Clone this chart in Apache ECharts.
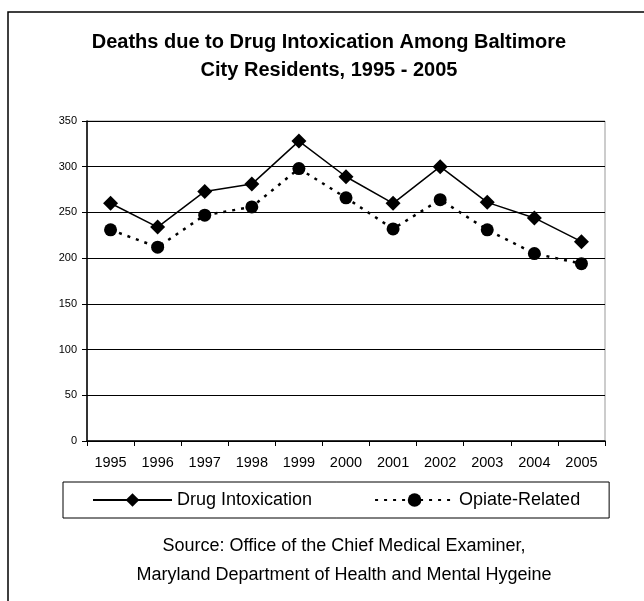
<!DOCTYPE html>
<html>
<head>
<meta charset="utf-8">
<script src="https://cdn.jsdelivr.net/npm/echarts@6/dist/echarts.min.js"></script>
<style>
html,body{margin:0;padding:0;background:#fff;}
#chart{width:644px;height:601px;}
</style>
</head>
<body>
<div id="chart"></div>
<script>
var years = ['1995','1996','1997','1998','1999','2000','2001','2002','2003','2004','2005'];
var drugIntoxication = [260, 234, 273, 281, 328, 289, 260, 300, 261, 244, 218];
var opiateRelated = [231, 212, 247, 256, 298, 266, 232, 264, 231, 205, 194];
var yTicks = { min: 0, max: 350, interval: 50 };
var titleText = 'Deaths due to Drug Intoxication Among Baltimore\nCity Residents, 1995 - 2005';
var sourceText = 'Source: Office of the Chief Medical Examiner,\nMaryland Department of Health and Mental Hygeine';

var FONT = "'Liberation Sans', Arial, sans-serif";
var chart = echarts.init(document.getElementById('chart'), null, {renderer: 'canvas'});
chart.setOption({
  backgroundColor: '#fff',
  animation: false,
  textStyle: { fontFamily: FONT, color: '#000' },
  graphic: [
    { type: 'rect', silent: true, z: -1,
      shape: { x: 8, y: 12, width: 800, height: 800 },
      style: { fill: 'none', stroke: '#000', lineWidth: 1.5 } },
    { type: 'text', x: 329, y: 28,
      style: { text: titleText, textAlign: 'center', textVerticalAlign: 'top',
        font: 'bold 20px ' + FONT, lineHeight: 28, fill: '#000' } },
    { type: 'text', x: 344, y: 532,
      style: { text: sourceText, textAlign: 'center', textVerticalAlign: 'top',
        font: '18px ' + FONT, lineHeight: 29, fill: '#000' } }
  ],
  grid: { left: 87, right: 39, top: 121, bottom: 160, show: true,
    borderColor: '#999', borderWidth: 1, backgroundColor: 'transparent' },
  legend: {
    left: 63, top: 482,
    padding: [9, 29], itemGap: 62, itemWidth: 79, itemHeight: 17,
    borderColor: '#000', borderWidth: 1,
    textStyle: { fontSize: 18, fontFamily: FONT, color: '#000', lineHeight: 18 },
    data: ['Drug Intoxication', 'Opiate-Related']
  },
  xAxis: {
    type: 'category', data: years, boundaryGap: true,
    axisLine: { lineStyle: { color: '#000', width: 1.5 } },
    axisTick: { show: true, length: 5, lineStyle: { color: '#000' } },
    axisLabel: { fontSize: 14.5, color: '#000', margin: 14, fontFamily: FONT },
    splitLine: { show: false }
  },
  yAxis: {
    type: 'value', min: yTicks.min, max: yTicks.max, interval: yTicks.interval,
    axisLine: { show: true, lineStyle: { color: '#000', width: 1.5 } },
    axisTick: { show: true, length: 5, lineStyle: { color: '#000' } },
    axisLabel: { fontSize: 11, color: '#000', margin: 10, fontFamily: FONT },
    splitLine: { show: true, lineStyle: { color: '#000', width: 1 } }
  },
  series: [
    { name: 'Drug Intoxication', type: 'line', data: drugIntoxication,
      symbol: 'diamond', symbolSize: 15,
      lineStyle: { color: '#000', width: 1.5, type: 'solid' },
      itemStyle: { color: '#000' } },
    { name: 'Opiate-Related', type: 'line', data: opiateRelated,
      symbol: 'circle', symbolSize: 13,
      lineStyle: { color: '#000', width: 2.5, type: [3, 6] },
      itemStyle: { color: '#000' } }
  ]
});
</script>
</body>
</html>
